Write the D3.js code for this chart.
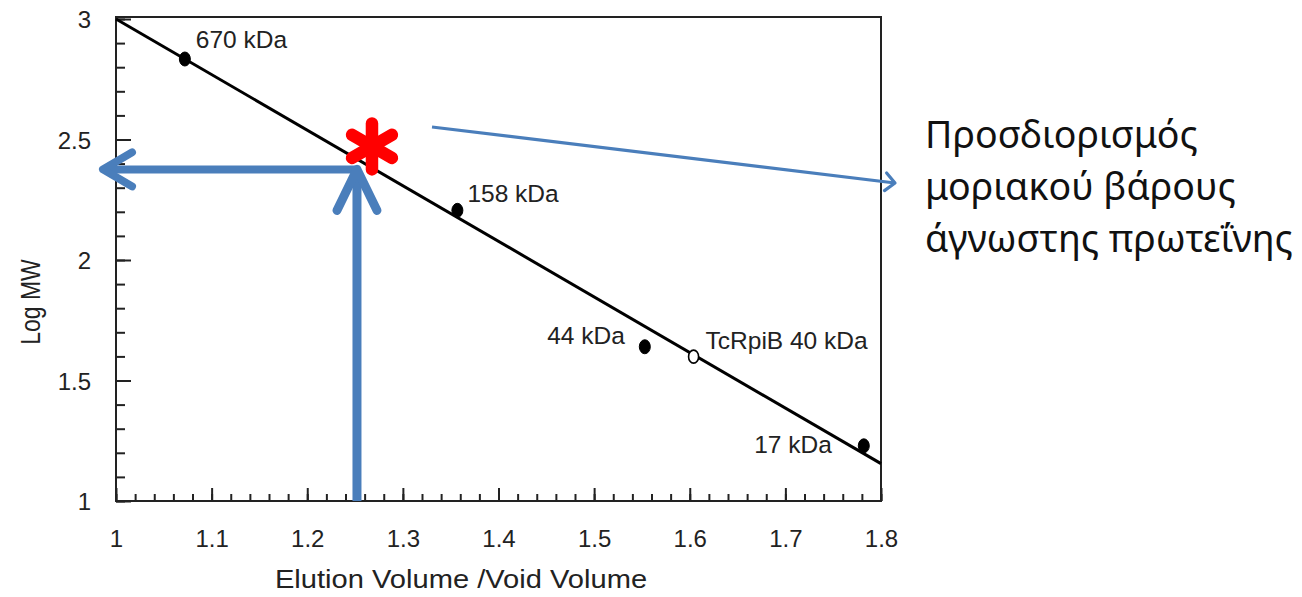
<!DOCTYPE html>
<html>
<head>
<meta charset="utf-8">
<script src="https://cdn.jsdelivr.net/npm/d3@7"></script>
<style>
  html, body { margin: 0; padding: 0; background: #ffffff; }
  svg { display: block; }
</style>
</head>
<body>
<svg id="chart" width="1302" height="597"></svg>
<script>
// ---------------- DATA ----------------
const categories = ["670 kDa", "158 kDa", "44 kDa", "TcRpiB 40 kDa", "17 kDa"];
const elutionRatio = [1.072, 1.357, 1.553, 1.604, 1.782];
const logMW = [2.834, 2.206, 1.640, 1.599, 1.229];
const isStandard = [true, true, true, false, true];
const fitX = [1.0, 1.8];
const fitY = [3.0, 1.155];
const unknownX = [1.252];
const unknownY = [2.376];
const xTickLabels = ["1", "1.1", "1.2", "1.3", "1.4", "1.5", "1.6", "1.7", "1.8"];
const yTickLabels = ["1", "1.5", "2", "2.5", "3"];
const xTitle = "Elution Volume /Void Volume";
const yTitle = "Log MW";
const noteLines = ["Προσδιορισμός", "μοριακού βάρους", "άγνωστης πρωτεΐνης"];

// ---------------- LAYOUT ----------------
const svg = d3.select("#chart");
const blue = "#4a7ebb";
const x = d3.scaleLinear().domain([1, 1.8]).range([116, 881]);
const y = d3.scaleLinear().domain([1, 3]).range([501, 19]);
const labelFont = "'Liberation Sans', Arial, Helvetica, sans-serif";

// frame
svg.append("rect")
  .attr("x", x(1)).attr("y", y(3) - 2)
  .attr("width", x(1.8) - x(1)).attr("height", y(1) - y(3) + 2)
  .attr("fill", "none").attr("stroke", "#222").attr("stroke-width", 2);

// minor + major ticks (inside)
const xMinor = d3.range(0, 41).map(i => 1 + i * 0.02);
const yMinor = d3.range(0, 21).map(i => 1 + i * 0.1);
const xMajorVals = xTickLabels.map(Number);
const yMajorVals = yTickLabels.map(Number);

const xAxisMinor = d3.axisBottom(x).tickValues(xMinor).tickSize(-7).tickFormat("");
const xAxisMajor = d3.axisBottom(x).tickValues(xMajorVals).tickSize(-13).tickPadding(0)
  .tickFormat((d, i) => xTickLabels[i]);
const yAxisMinor = d3.axisLeft(y).tickValues(yMinor).tickSize(-9).tickFormat("");
const yAxisMajor = d3.axisLeft(y).tickValues(yMajorVals).tickSize(-15).tickPadding(0)
  .tickFormat((d, i) => yTickLabels[i]);

function styleAxis(g) {
  g.select(".domain").remove();
  g.selectAll(".tick line").attr("stroke", "#222").attr("stroke-width", 2);
  g.selectAll(".tick text").attr("fill", "#222")
    .style("font-family", labelFont).style("font-size", "24px");
}
svg.append("g").attr("transform", `translate(0,${y(1)})`).call(xAxisMinor).call(styleAxis);
const gx = svg.append("g").attr("transform", `translate(0,${y(1)})`).call(xAxisMajor).call(styleAxis);
gx.selectAll(".tick text").attr("y", 0).attr("dy", 0).attr("transform", "translate(0,46)");
svg.append("g").attr("transform", `translate(${x(1)},0)`).call(yAxisMinor).call(styleAxis);
const gy = svg.append("g").attr("transform", `translate(${x(1)},0)`).call(yAxisMajor).call(styleAxis);
gy.selectAll(".tick text").attr("x", -25).attr("dy", "0.36em");

// axis titles
svg.append("text")
  .attr("transform", `translate(461,588) scale(1.12,1)`)
  .attr("text-anchor", "middle")
  .style("font-family", labelFont).style("font-size", "26px").attr("fill", "#222")
  .text(xTitle);
svg.append("text")
  .attr("transform", `translate(40,302) rotate(-90) scale(1,1.2)`)
  .attr("text-anchor", "middle")
  .style("font-family", labelFont).style("font-size", "23px").attr("fill", "#222")
  .text(yTitle);

// fit line
const line = d3.line().x(d => x(d[0])).y(d => y(d[1]));
svg.append("path")
  .datum(d3.zip(fitX, fitY))
  .attr("d", line)
  .attr("fill", "none").attr("stroke", "#000").attr("stroke-width", 3);

// points
const pts = categories.map((c, i) => ({ c, x: elutionRatio[i], y: logMW[i], std: isStandard[i] }));
svg.append("g").selectAll("ellipse").data(pts).join("ellipse")
  .attr("cx", d => x(d.x)).attr("cy", d => y(d.y))
  .attr("rx", d => d.std ? 5.5 : 5).attr("ry", d => d.std ? 7 : 6.5)
  .attr("fill", d => d.std ? "#000" : "#fff")
  .attr("stroke", "#000").attr("stroke-width", d => d.std ? 1 : 1.6);

// labels (offsets from their point)
const labelLayout = [
  { dx: 11, dy: -11, anchor: "start" },
  { dx: 10, dy: -8, anchor: "start" },
  { dx: -20, dy: -3, anchor: "end" },
  { dx: 12, dy: -8, anchor: "start" },
  { dx: -32, dy: 7, anchor: "end" }
];
svg.append("g").selectAll("text").data(pts).join("text")
  .attr("x", (d, i) => x(d.x) + labelLayout[i].dx)
  .attr("y", (d, i) => y(d.y) + labelLayout[i].dy)
  .attr("text-anchor", (d, i) => labelLayout[i].anchor)
  .style("font-family", labelFont).style("font-size", "24.5px").attr("fill", "#222")
  .text(d => d.c);

// blue arrows to axes
const ux = x(unknownX[0]), uy = y(unknownY[0]);
const tipX = x(1) - 13;
const thick = svg.append("g").attr("fill", "none").attr("stroke", blue)
  .attr("stroke-linecap", "round").attr("stroke-linejoin", "round");
// horizontal
thick.append("path").attr("stroke-width", 8).attr("stroke-linecap", "butt")
  .attr("d", `M${ux},${uy}H${tipX + 3}`);
thick.append("path").attr("stroke-width", 8)
  .attr("d", `M${tipX + 29},${uy - 17}L${tipX},${uy}L${tipX + 29},${uy + 17}`);
// vertical
thick.append("path").attr("stroke-width", 9).attr("stroke-linecap", "butt")
  .attr("d", `M${ux},${y(1)}V${uy + 3}`);
thick.append("path").attr("stroke-width", 9)
  .attr("d", `M${ux - 20},${uy + 41}L${ux},${uy}L${ux + 20},${uy + 41}`);

// red asterisk
const ax = ux + 15, ay = uy - 23, ar = 23;
const star = svg.append("g").attr("stroke", "#ff0000").attr("stroke-width", 12.5).attr("stroke-linecap", "round");
[90, 30, 150].forEach(a => {
  const r = a * Math.PI / 180;
  star.append("line")
    .attr("x1", ax - ar * Math.cos(r)).attr("y1", ay - ar * Math.sin(r))
    .attr("x2", ax + ar * Math.cos(r)).attr("y2", ay + ar * Math.sin(r));
});

// thin pointer arrow
const p0 = [432, 127], p1 = [895, 183];
const ang = Math.atan2(p1[1] - p0[1], p1[0] - p0[0]);
const hl = 13, ha = 0.75;
svg.append("path")
  .attr("d", `M${p0[0]},${p0[1]}L${p1[0]},${p1[1]}`)
  .attr("stroke", blue).attr("stroke-width", 3.2).attr("fill", "none");
svg.append("path")
  .attr("d", `M${p1[0] - hl * Math.cos(ang - ha)},${p1[1] - hl * Math.sin(ang - ha)}L${p1[0]},${p1[1]}L${p1[0] - hl * Math.cos(ang + ha)},${p1[1] - hl * Math.sin(ang + ha)}`)
  .attr("stroke", blue).attr("stroke-width", 3.2).attr("fill", "none")
  .attr("stroke-linecap", "round").attr("stroke-linejoin", "round");

// note text
const note = svg.append("g").attr("transform", "translate(925,0)");
const noteText = note.selectAll("text").data(noteLines).join("text")
  .attr("x", 0).attr("y", (d, i) => 148 + i * 52)
  .style("font-family", "'Noto Sans', 'Open Sans', sans-serif")
  .style("font-size", "39px").attr("fill", "#111")
  .text(d => d);
const w = noteText.nodes()[2].getComputedTextLength();
const sx = 368 / w;
noteText.attr("transform", `scale(${sx},1)`);
</script>
</body>
</html>
